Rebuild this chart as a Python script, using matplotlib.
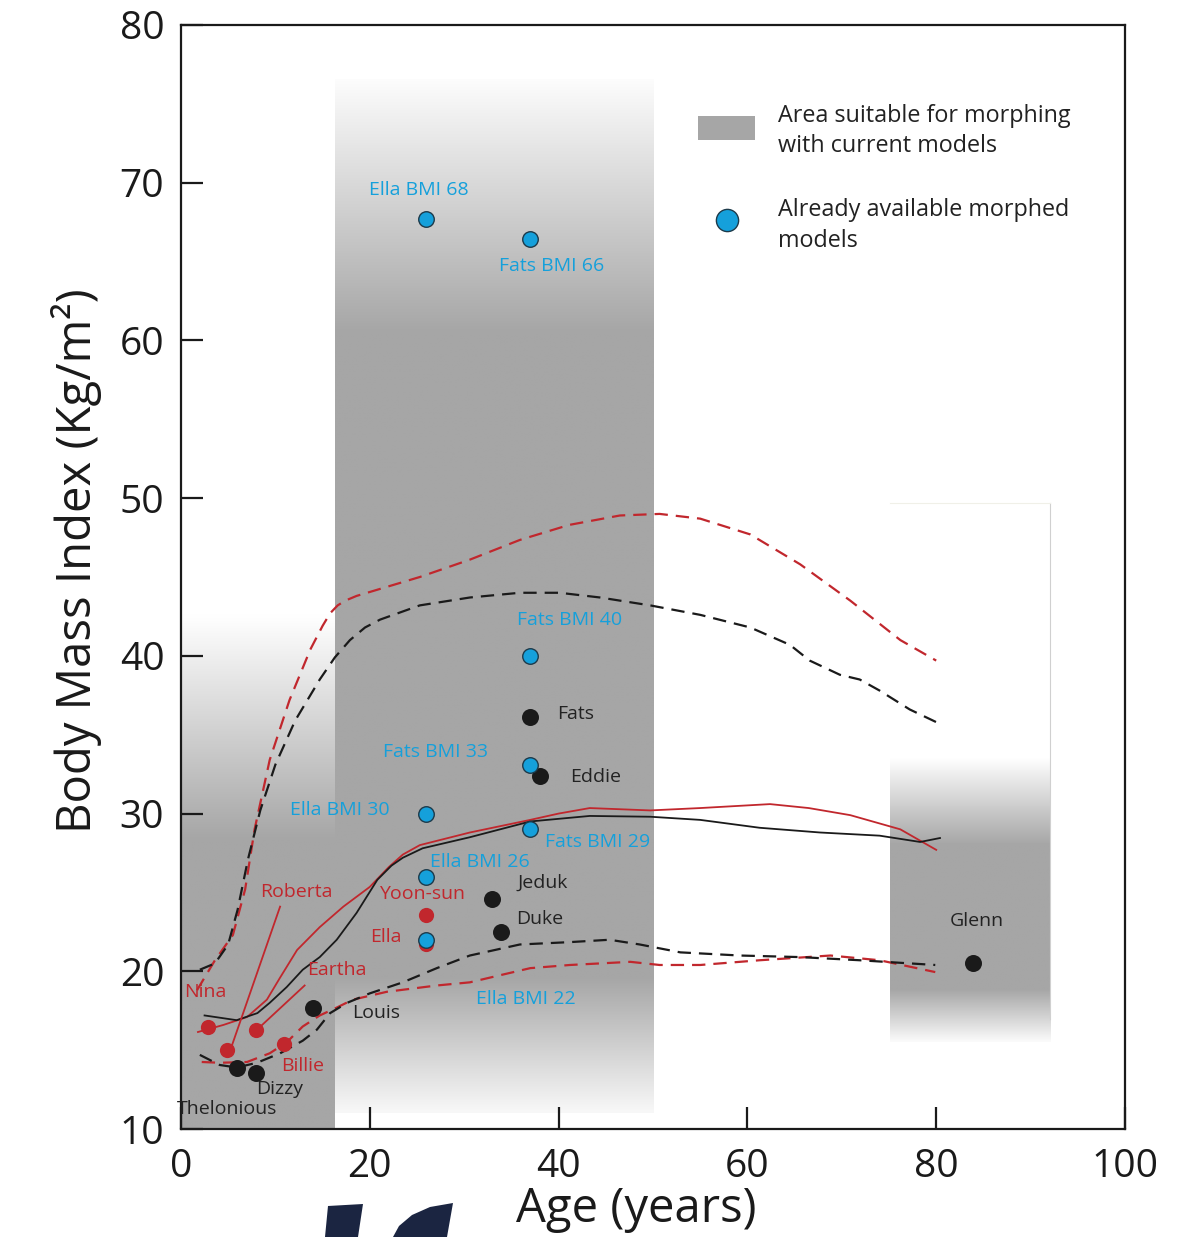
import numpy as np
import matplotlib
matplotlib.use("Agg")
import matplotlib.pyplot as plt
from matplotlib.patches import Rectangle, Polygon
from matplotlib.lines import Line2D

plt.rcParams['font.family'] = ['Open Sans', 'DejaVu Sans']

# ---- growth curves (age, BMI) ----
f_p95_age = [1.7, 3.6, 5.5, 6.8, 7.8, 9.4, 11.5, 13.7, 15.0, 15.8, 16.6, 17.4, 18.6, 20.0, 25.3, 30.6, 35.9, 41.1, 46.5, 50.7, 55.0, 60.3, 65.6, 70.9, 76.2, 80.0]
f_p95_bmi = [18.8, 20.7, 22.3, 25.2, 29.0, 33.4, 37.2, 40.4, 41.9, 42.7, 43.2, 43.5, 43.8, 44.05, 45.0, 46.1, 47.35, 48.3, 48.9, 49.0, 48.7, 47.7, 45.8, 43.5, 41.0, 39.7]

m_p95_age = [2.0, 3.6, 5.0, 6.0, 7.1, 8.4, 10.0, 12.1, 14.7, 16.3, 17.9, 19.5, 21.1, 25.3, 30.6, 35.9, 40.1, 44.4, 49.7, 55.0, 60.3, 64.5, 66.6, 69.8, 71.9, 74.0, 77.2, 80.0]
m_p95_bmi = [20.1, 20.5, 21.7, 23.9, 27.1, 30.2, 33.1, 35.9, 38.5, 39.9, 41.0, 41.8, 42.3, 43.2, 43.7, 44.0, 44.0, 43.7, 43.2, 42.6, 41.8, 40.7, 39.7, 38.8, 38.5, 37.8, 36.6, 35.8]

f_p50_age = [1.8, 4.5, 7.0, 9.1, 10.5, 12.3, 14.7, 17.2, 20.0, 22.0, 23.5, 25.3, 30.6, 37.0, 40.0, 43.3, 49.7, 55.0, 62.4, 66.5, 70.9, 76.2, 80.0]
f_p50_bmi = [16.15, 16.6, 17.1, 18.2, 19.6, 21.35, 22.8, 24.1, 25.35, 26.6, 27.4, 28.0, 28.8, 29.6, 30.0, 30.35, 30.2, 30.35, 30.6, 30.35, 29.9, 29.0, 27.7]

m_p50_age = [2.5, 5.9, 8.1, 9.4, 11.2, 12.9, 14.7, 16.5, 18.6, 20.8, 22.3, 23.5, 25.6, 30.6, 37.0, 43.3, 49.7, 55.0, 61.3, 67.7, 74.0, 78.3, 80.4]
m_p50_bmi = [17.2, 16.9, 17.35, 18.0, 19.0, 20.1, 20.9, 22.0, 23.7, 25.8, 26.7, 27.2, 27.8, 28.5, 29.5, 29.85, 29.8, 29.6, 29.1, 28.8, 28.6, 28.2, 28.45]

m_p5_age = [2.0, 4.1, 5.9, 8.05, 10.5, 12.9, 14.4, 15.8, 17.6, 20.0, 23.5, 27.1, 30.6, 35.9, 41.2, 45.4, 48.6, 52.9, 59.2, 65.6, 71.9, 79.9]
m_p5_bmi = [14.7, 14.06, 13.9, 14.2, 14.8, 15.6, 16.3, 17.35, 18.0, 18.6, 19.3, 20.2, 21.0, 21.7, 21.85, 22.0, 21.7, 21.2, 21.0, 20.9, 20.7, 20.4]

f_p5_age = [2.2, 4.1, 7.0, 9.4, 11.2, 12.9, 14.7, 16.5, 18.2, 21.8, 27.1, 30.6, 37.0, 41.2, 47.6, 50.7, 55.0, 61.3, 68.8, 74.0, 79.9]
f_p5_bmi = [14.25, 14.2, 14.25, 14.8, 15.5, 16.5, 17.2, 17.7, 18.2, 18.7, 19.1, 19.3, 20.2, 20.4, 20.6, 20.4, 20.4, 20.7, 21.0, 20.7, 19.95]

# ---- individuals ----
black_names = ["Thelonious", "Dizzy", "Louis", "Jeduk", "Duke", "Fats", "Eddie", "Glenn"]
black_age = [5.9, 7.95, 14.0, 32.9, 33.9, 37.0, 38.0, 83.9]
black_bmi = [13.9, 13.55, 17.7, 24.6, 22.5, 36.1, 32.4, 20.5]

red_names = ["Nina", "Roberta", "Eartha", "Billie", "Yoon-sun", "Ella"]
red_age = [2.86, 4.9, 7.95, 10.9, 26.0, 26.0]
red_bmi = [16.47, 15.0, 16.3, 15.4, 23.6, 21.7]

blue_names = ["Ella BMI 68", "Fats BMI 66", "Fats BMI 40", "Fats BMI 33", "Ella BMI 30", "Fats BMI 29", "Ella BMI 26", "Ella BMI 22"]
blue_age = [26.0, 37.0, 37.0, 37.0, 26.0, 37.0, 26.0, 26.0]
blue_bmi = [67.7, 66.4, 40.0, 33.1, 30.0, 29.0, 26.0, 22.0]

# label positions (data coords)
black_lbl = [(4.9, 11.3), (10.5, 12.55), (20.7, 17.35), (38.3, 25.6), (38.0, 23.3), (41.8, 36.3), (43.9, 32.3), (84.3, 23.2)]
red_lbl = [(2.6, 18.7), (12.2, 25.0), (16.5, 20.1), (12.9, 14.0), (25.5, 24.9), (21.7, 22.2)]
blue_lbl = [(25.2, 69.55), (39.3, 64.7), (41.2, 42.3), (27.0, 33.9), (16.8, 30.2), (44.1, 28.2), (31.7, 26.9), (36.5, 18.25)]

RED = "#c1272d"
BLUE = "#15a0db"
GRAY = 166 / 255.0

fig = plt.figure(figsize=(12.04, 12.37), dpi=100)
ax = fig.add_axes([0.1503, 0.0873, 0.7841, 0.8925])


def grad(x0, x1, y0, y1, knots_y, knots_v):
    ys = np.linspace(y0, y1, 400)
    v = np.interp(ys, knots_y, knots_v)
    g = 1 - (1 - GRAY) * v
    img = np.repeat(g[:, None, None], 3, axis=2)
    ax.imshow(img, extent=[x0, x1, y0, y1], origin="lower", aspect="auto",
              interpolation="bilinear", zorder=0)


# gray areas with gradient fades
grad(0, 16.3, 10, 80, [10, 28.3, 42.5, 80], [1, 1, 0, 0])
grad(16.3, 50.0, 11.0, 76.5, [11.0, 19.5, 60.5, 76.5], [0.08, 1, 1, 0.03])
grad(75.1, 92.05, 15.5, 49.7, [15.5, 18.8, 28.0, 33.5, 49.7], [0.05, 1, 1, 0, 0])
ax.plot([92.05, 92.05], [17, 49.7], color="#d0d0d0", lw=0.8, zorder=0.5)
ax.plot([75.1, 92.05], [49.7, 49.7], color="#f0f0e8", lw=0.8, zorder=0.5)

dash = dict(lw=1.6, dashes=(6, 3.6))
ax.plot(f_p95_age, f_p95_bmi, color=RED, **dash, zorder=2)
ax.plot(m_p95_age, m_p95_bmi, color="#1a1a1a", **dash, zorder=2)
ax.plot(f_p5_age, f_p5_bmi, color=RED, **dash, zorder=2)
ax.plot(m_p5_age, m_p5_bmi, color="#1a1a1a", **dash, zorder=2)
ax.plot(f_p50_age, f_p50_bmi, color=RED, lw=1.3, zorder=2)
ax.plot(m_p50_age, m_p50_bmi, color="#1a1a1a", lw=1.3, zorder=2)

# pointer lines
ax.plot([10.5, 5.4], [24.1, 15.3], color=RED, lw=1.3, zorder=2)
ax.plot([13.1, 8.6], [19.1, 16.6], color=RED, lw=1.3, zorder=2)

ax.scatter(red_age, red_bmi, s=120, color=RED, zorder=3, linewidths=0)
ax.scatter(black_age, black_bmi, s=150, color="#1a1a1a", zorder=3, linewidths=0)
ax.scatter(blue_age, blue_bmi, s=125, color=BLUE, edgecolors="#1d3a4a", linewidths=1.0, zorder=4)

fs = 14
for n, (lx, ly) in zip(black_names, black_lbl):
    ax.text(lx, ly, n, color="#222222", fontsize=fs, ha="center", va="center", zorder=5)
for n, (lx, ly) in zip(red_names, red_lbl):
    ax.text(lx, ly, n, color=RED, fontsize=fs, ha="center", va="center", zorder=5)
for n, (lx, ly) in zip(blue_names, blue_lbl):
    ax.text(lx, ly, n, color=BLUE, fontsize=fs, ha="center", va="center", zorder=5)

# legend drawn by hand
ax.add_patch(Rectangle((0.548, 0.896), 0.060, 0.022, transform=ax.transAxes,
                       color=(GRAY, GRAY, GRAY), lw=0, zorder=5))
ax.text(0.632, 0.904, "Area suitable for morphing\nwith current models", transform=ax.transAxes,
        fontsize=16.8, ha="left", va="center", color="#222222", linespacing=1.38)
ax.add_line(Line2D([0.578], [0.823], transform=ax.transAxes, marker="o", markersize=16,
                   markerfacecolor=BLUE, markeredgecolor="#1d3a4a", markeredgewidth=1.0, lw=0))
ax.text(0.632, 0.818, "Already available morphed\nmodels", transform=ax.transAxes,
        fontsize=16.8, ha="left", va="center", color="#222222", linespacing=1.38)

ax.set_xlim(0, 100)
ax.set_ylim(10, 80)
ax.set_xticks([0, 20, 40, 60, 80, 100])
ax.set_yticks([10, 20, 30, 40, 50, 60, 70, 80])
ax.tick_params(axis="both", direction="in", length=16, width=1.6, labelsize=28,
               colors="#1a1a1a", pad=12)
ax.tick_params(axis="x", pad=14)
for s in ax.spines.values():
    s.set_linewidth(1.6)
    s.set_color("#1a1a1a")

ax.set_xlabel("Age (years)", fontsize=34, color="#1a1a1a")
ax.xaxis.set_label_coords(0.482, -0.051)
ax.set_ylabel("Body Mass Index (Kg/m²)", fontsize=34, color="#1a1a1a")
ax.yaxis.set_label_coords(-0.084, 0.515)

# partial logo at the bottom edge
W, H = 1204.0, 1237.0
def px(pts):
    return [(x / W, 1 - y / H) for x, y in pts]
fig.add_artist(Polygon(px([(328, 1206), (363, 1204), (358, 1237), (325, 1237)]),
                       closed=True, transform=fig.transFigure, color="#1b2541", lw=0))
fig.add_artist(Polygon(px([(393, 1237), (399, 1226), (412, 1215), (430, 1207), (453, 1203), (447, 1237)]),
                       closed=True, transform=fig.transFigure, color="#1b2541", lw=0))

fig.savefig("out.png", dpi=100)
